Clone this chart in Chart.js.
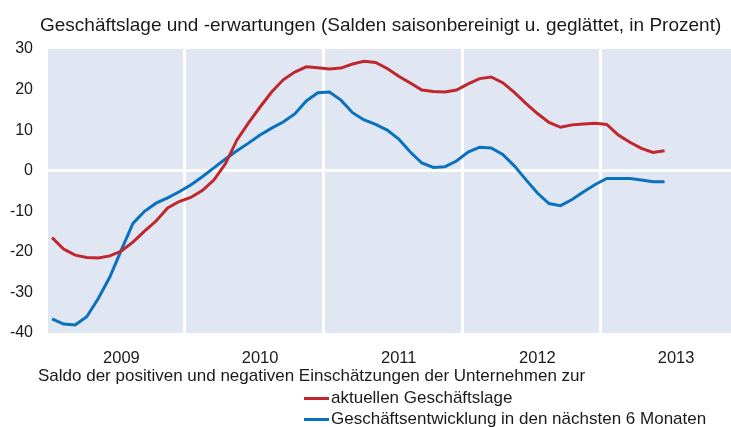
<!DOCTYPE html>
<html lang="de">
<head>
<meta charset="utf-8">
<title>Geschäftslage und -erwartungen</title>
<script src="https://cdn.jsdelivr.net/npm/chart.js@4.4.0/dist/chart.umd.min.js"></script>
<style>
  body { margin: 0; background: #fff; font-family: "Liberation Sans", Arial, sans-serif; color: #1a1a1a; }
  #wrap { position: relative; width: 731px; height: 427px; overflow: hidden; }
  #grafik { position: absolute; left: 0; top: 0; }
  .txt { position: absolute; white-space: nowrap; font-size: 17px; line-height: 20px; }
  .linie { position: absolute; width: 25px; height: 3px; }
</style>
</head>
<body>
<div id="wrap">
  <canvas id="grafik" width="731" height="427"></canvas>
  <div class="txt" style="left:40px; top:15px; font-size:19px;">Geschäftslage und -erwartungen (Salden saisonbereinigt u. geglättet, in Prozent)</div>
  <div class="txt" style="left:38px; top:366px;">Saldo der positiven und negativen Einschätzungen der Unternehmen zur</div>
  <div class="linie" style="left:304px; top:397px; background:#c0272d;"></div>
  <div class="txt" style="left:331px; top:388px;">aktuellen Geschäftslage</div>
  <div class="linie" style="left:304px; top:418px; background:#0a72bd;"></div>
  <div class="txt" style="left:331px; top:409px;">Geschäftsentwicklung in den nächsten 6 Monaten</div>
</div>
<script>
// Jahre auf der x-Achse (Monatswerte ab Januar 2009)
const jahre = ['2009', '2010', '2011', '2012', '2013'];

// Saldo aktuelle Geschäftslage (monatlich)
const geschaeftslage = [
  -16.5, -19.3, -20.8, -21.4, -21.5, -21, -19.8, -17.6, -14.9, -12.4,
  -9.2, -7.6, -6.6, -4.9, -2.3, 1.7, 7.6, 11.8, 15.7, 19.4,
  22.4, 24.3, 25.6, 25.4, 25.1, 25.3, 26.3, 27.0, 26.7, 25.2,
  23.3, 21.6, 19.9, 19.5, 19.4, 19.9, 21.4, 22.7, 23.1, 21.7,
  19.3, 16.6, 14.1, 11.9, 10.7, 11.3, 11.5, 11.7, 11.4, 8.8,
  7.0, 5.5, 4.5, 4.9
];

// Saldo Geschäftsentwicklung in den nächsten 6 Monaten
const erwartungen = [
  -36.5, -37.8, -38.0, -36.0, -31.5, -26.2, -19.5, -13, -10, -8,
  -6.7, -5.2, -3.5, -1.5, 0.7, 2.9, 4.9, 6.8, 8.8, 10.5,
  12, 14, 17.2, 19.2, 19.4, 17.4, 14.3, 12.5, 11.4, 10,
  7.8, 4.6, 1.9, 0.8, 1.0, 2.4, 4.6, 5.8, 5.6, 4.0,
  1.2, -2.2, -5.5, -8.1, -8.6, -7.1, -5.2, -3.4, -1.9, -1.9,
  -1.9, -2.3, -2.7, -2.7
];

// y-Achse
const yMin = -40, yMax = 30, yStep = 10;

// Monatswert in die Mitte des Monats legen
const punkte = werte => werte.map((v, i) => ({ x: i + 0.5, y: v }));

// Ticks: Jahresbeschriftung in der Jahresmitte, weiße Linie am Jahreswechsel
const xTicks = [];
jahre.forEach((j, k) => {
  if (k > 0) xTicks.push(k * 12);
  xTicks.push(k * 12 + 6.5);
});

const hintergrund = {
  id: 'hintergrund',
  beforeDraw(chart) {
    const { ctx, chartArea: a } = chart;
    ctx.save();
    ctx.fillStyle = '#e0e7f3';
    ctx.fillRect(a.left, a.top, a.right - a.left, a.bottom - a.top);
    ctx.restore();
  }
};

const schrift = { family: '"Liberation Sans", Arial, sans-serif', size: 16 };

const ctx = document.getElementById('grafik').getContext('2d');
const grafik = new Chart(ctx, {
  type: 'line',
  data: {
    datasets: [{
      label: 'aktuellen Geschäftslage',
      data: punkte(geschaeftslage),
      borderColor: '#c0272d',
      borderWidth: 3,
      pointRadius: 0,
      tension: 0
    }, {
      label: 'Geschäftsentwicklung in den nächsten 6 Monaten',
      data: punkte(erwartungen),
      borderColor: '#0a72bd',
      borderWidth: 3,
      pointRadius: 0,
      tension: 0
    }]
  },
  options: {
    responsive: false,
    animation: false,
    layout: { padding: { top: 49, right: 0, bottom: 55, left: 0 } },
    plugins: {
      legend: { display: false },
      title: { display: false },
      tooltip: { enabled: false }
    },
    scales: {
      x: {
        type: 'linear',
        min: 0.15,
        max: 59.25,
        afterBuildTicks: s => { s.ticks = xTicks.map(v => ({ value: v })); },
        afterFit: s => { s.height = 39; },
        border: { display: false },
        grid: {
          drawTicks: false,
          lineWidth: 3,
          color: c => (c.tick && c.tick.value % 12 === 0) ? '#ffffff' : 'rgba(0,0,0,0)'
        },
        ticks: {
          autoSkip: false,
          maxRotation: 0,
          padding: 16,
          color: '#1a1a1a',
          font: { family: schrift.family, size: 16.5 },
          callback: v => {
            const k = (v - 6.5) / 12;
            return Number.isInteger(k) ? jahre[k] : '';
          }
        }
      },
      y: {
        min: yMin,
        max: yMax,
        afterFit: s => { s.width = 48; },
        border: { display: false },
        grid: {
          drawTicks: false,
          lineWidth: 3,
          color: c => (c.tick && c.tick.value === 0) ? '#ffffff' : 'rgba(0,0,0,0)'
        },
        ticks: {
          stepSize: yStep,
          padding: 15,
          color: '#1a1a1a',
          font: schrift
        }
      }
    }
  },
  plugins: [hintergrund]
});
</script>
</body>
</html>
